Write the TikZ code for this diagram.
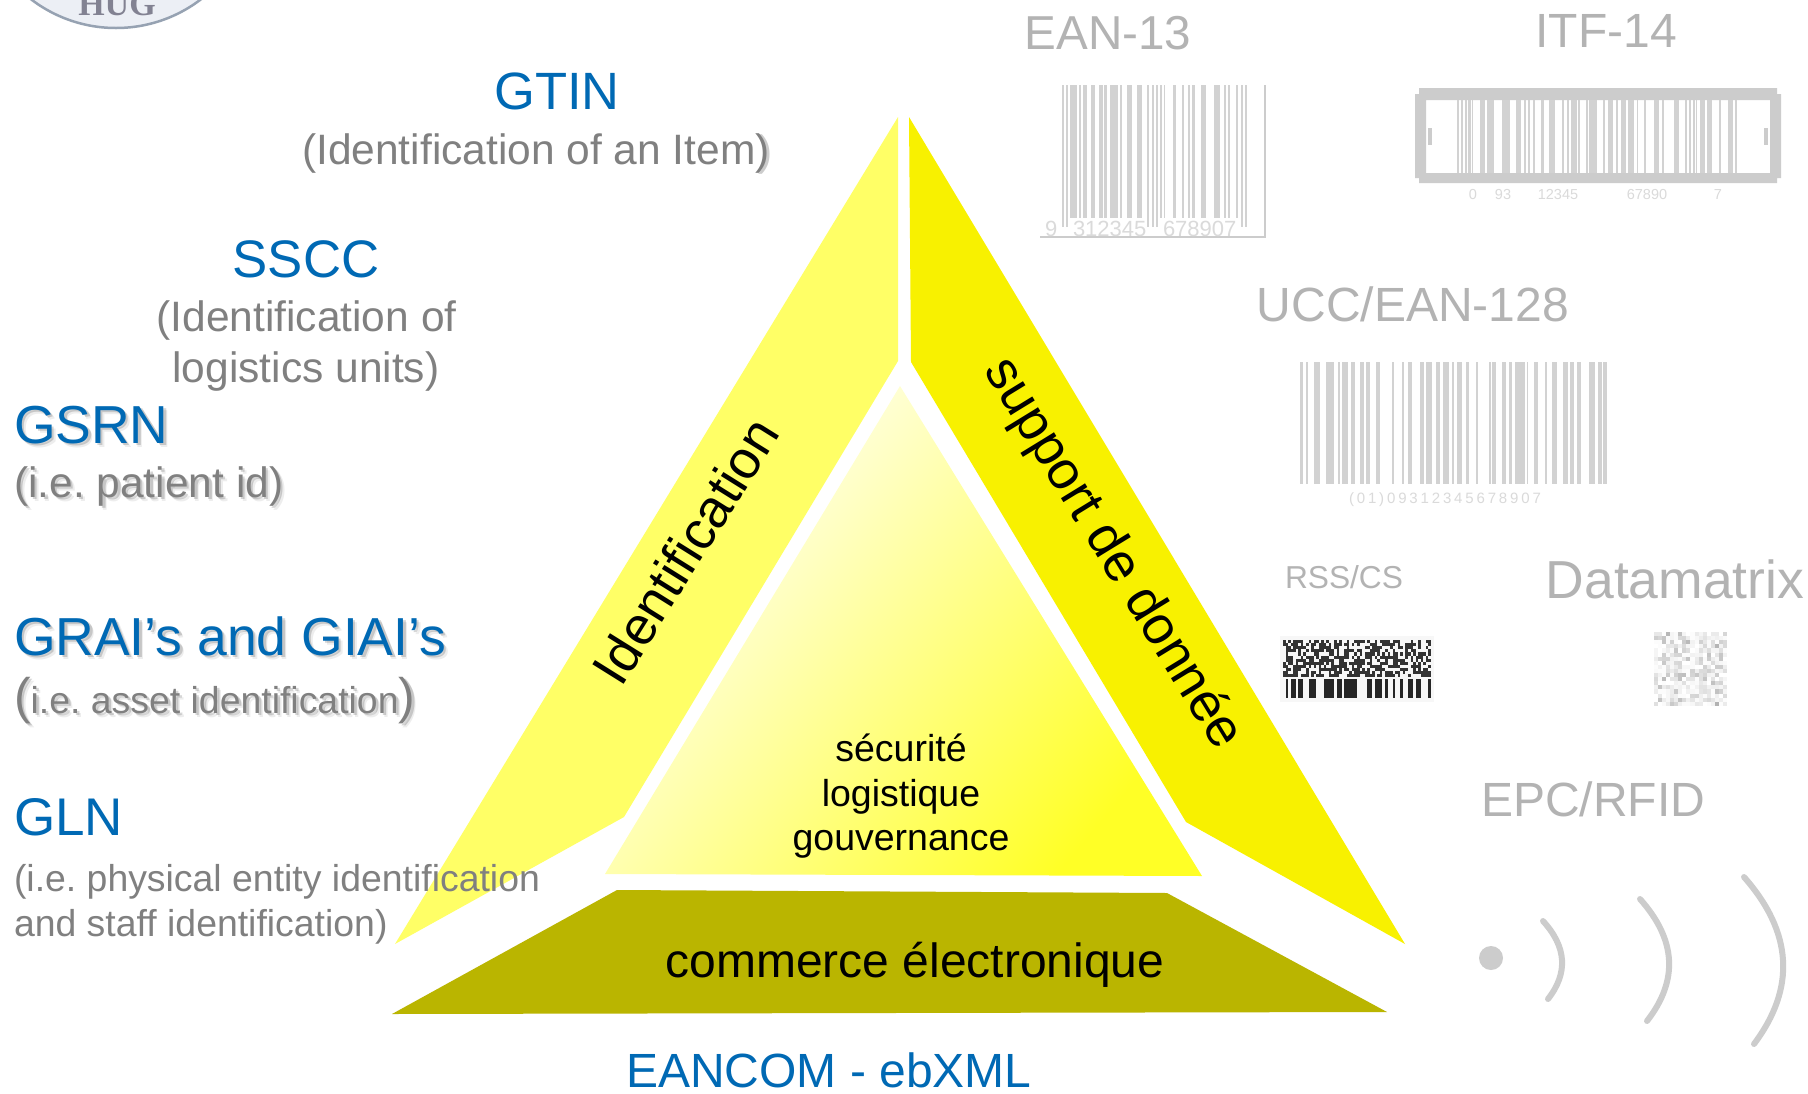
\documentclass[tikz,border=0pt]{standalone}
\usepackage{fontspec}
\setmainfont{Liberation Sans}
\newfontfamily\serifface{Liberation Serif}
\newfontfamily\spacedface[LetterSpace=19]{Liberation Sans}
\frenchspacing
\newcommand{\shadownode}[5]{%
  \node[#1, text=black, text opacity=.07] at ({#3+4}, {#4+4}) {#5};
  \node[#1, text=black, text opacity=.16] at ({#3+2.5}, {#4+2.5}) {#5};
  \node[#1] (#2) at (#3, #4) {#5};}
\tikzset{
  textbase/.style={inner sep=0pt, outer sep=0pt, anchor=base},
  codelabel/.style={textbase, text=codeblue, font=\fontsize{53.5}{60}\selectfont},
  sublabel/.style={textbase, text=subgray, font=\fontsize{42.5}{50}\selectfont},
  smallsub/.style={textbase, text=subgray, font=\fontsize{37.4}{44}\selectfont},
  carrierlabel/.style={textbase, text=carriergray, font=\fontsize{48}{55}\selectfont},
  wingtext/.style={inner sep=0pt, text=black, font=\fontsize{53.6}{60}\selectfont},
  coretext/.style={textbase, text=black, font=\fontsize{37.5}{44}\selectfont},
  barfill/.style={fill=bargray!88!white},
  bardigit/.style={textbase, text=digitgray}
}
\begin{document}
\begin{tikzpicture}[x=1pt, y=-1pt]
  \definecolor{codeblue}{RGB}{0, 105, 180}
  \definecolor{subgray}{RGB}{128, 128, 128}
  \definecolor{carriergray}{RGB}{179, 179, 179}
  \definecolor{bargray}{RGB}{204, 204, 204}
  \definecolor{digitgray}{RGB}{218, 218, 218}
  \definecolor{leftyellow}{RGB}{255, 255, 102}
  \definecolor{rightyellow}{RGB}{248, 241, 0}
  \definecolor{baseolive}{RGB}{186, 181, 0}
  \definecolor{logofill}{RGB}{236, 239, 245}
  \definecolor{logoline}{RGB}{150, 162, 178}
  \definecolor{logotext}{RGB}{130, 130, 146}
  \path[use as bounding box] (0, 0) rectangle (1808, 1093);
  \fill[white] (0, 0) rectangle (1808, 1093);

  % logo, cut by the page
  \draw[logoline, fill=logofill, line width=2.5pt] (116, -112) circle (140);
  \node[textbase, text=logotext, font=\serifface\bfseries\fontsize{34}{34}\selectfont] (logo) at (117, 15) {HUG};

  % triangle
  \fill[leftyellow] (898, 117) -- (898, 361) -- (624, 817) -- (395, 944) -- cycle;
  \fill[rightyellow] (909, 117) -- (911, 362) -- (1186, 822) -- (1405, 944) -- cycle;
  \shade[top color=white, middle color=yellow!30!white, bottom color=yellow!85!white, shading angle=50]
    (900, 386) -- (1202, 876) -- (605, 874) -- cycle;
  \fill[baseolive] (617, 890) -- (1167, 893) -- (1387, 1012) -- (392, 1014) -- cycle;

  \node[wingtext, rotate=58] (identif) at (685, 551) {Identification};
  \node[wingtext, rotate=-58.5] (support) at (1112, 554) {support de donnée};
  \node[coretext] (secu) at (901, 761) {sécurité};
  \node[coretext] (logi) at (901, 806) {logistique};
  \node[coretext] (gouv) at (901, 850) {gouvernance};
  \node[textbase, text=black, font=\fontsize{48}{55}\selectfont] (comm) at (915, 977) {commerce électronique};
  \node[codelabel, font=\fontsize{48}{60}\selectfont] (eancom) at (829, 1087) {EANCOM - ebXML};

  % left column
  \node[codelabel, font=\fontsize{52.5}{60}\selectfont] (gtin) at (557, 109) {GTIN};
  \node[sublabel, text=black, text opacity=.2, anchor=base east] at (773, 165) {)};
  \node[sublabel] (gtinsub) at (536, 164) {(Identification of an Item)};
  \node[codelabel, font=\fontsize{52.8}{60}\selectfont] (sscc) at (306, 277) {SSCC};
  \node[sublabel] (ssccsub) at (306.5, 331) {(Identification of};
  \node[sublabel] (ssccsubb) at (306, 382) {logistics units)};
  \shadownode{codelabel, anchor=base west}{gsrn}{14}{443}{GSRN}
  \shadownode{sublabel, anchor=base west}{gsrnsub}{14}{497}{(i.e. patient id)}
  \shadownode{codelabel, anchor=base west}{grai}{14}{655}{GRAI’s and GIAI’s}
  \shadownode{smallsub, anchor=base west}{graisub}{14}{713}{{\fontsize{50}{50}\selectfont(}i.e. asset identification{\fontsize{50}{50}\selectfont)}}
  \node[codelabel, anchor=base west, font=\fontsize{53}{60}\selectfont] (gln) at (14, 835) {GLN};
  \node[smallsub, anchor=base west] (glnsub) at (14, 891) {(i.e. physical entity identification};
  \node[smallsub, anchor=base west] (glnsubb) at (14, 936) {and staff identification)};

  % right column labels
  \node[carrierlabel, font=\fontsize{47.6}{55}\selectfont] (ean) at (1108, 49) {EAN-13};
  \node[carrierlabel] (itf) at (1606, 47) {ITF-14};
  \node[carrierlabel] (ucc) at (1413, 321) {UCC/EAN-128};
  \node[carrierlabel, font=\fontsize{31.7}{38}\selectfont] (rss) at (1344, 588) {RSS/CS};
  \node[carrierlabel, font=\fontsize{53.5}{60}\selectfont] (datamatrix) at (1675, 598) {Datamatrix};
  \node[carrierlabel] (epc) at (1593, 816) {EPC/RFID};

  % EAN-13 bars
  \foreach \a/\b in {105/127, 133/139, 145/157, 168/180, 193/203, 208/216, 226/250, 256/262, 275/291,
      306/322, 375/381, 387/391, 415/423, 440/446, 458/464, 472/480, 497/512, 538/556, 567/573, 580/586, 604/610} {
    \fill[barfill] ({1035+\a/3}, 85) rectangle ({1035+\b/3}, 218);
  }
  \foreach \a/\b in {80/86, 93/100, 336/343, 350/356, 362/368, 618/624, 630/636} {
    \fill[barfill] ({1035+\a/3}, 85) rectangle ({1035+\b/3}, 227);
  }
  \draw[bargray, line width=1.2pt] (1265, 85) -- (1265, 237) -- (1040, 237);
  \node[bardigit, anchor=base west, font=\fontsize{22}{22}\selectfont] (eana) at (1045, 236) {9};
  \node[bardigit, anchor=base west, font=\fontsize{22}{22}\selectfont] (eanb) at (1073, 236) {312345};
  \node[bardigit, anchor=base west, font=\fontsize{22}{22}\selectfont] (eanc) at (1163, 236) {678907};

  % ITF-14 frame and bars
  \fill[bargray, even odd rule] (1419, 88) -- (1777, 88) -- (1777, 94) -- (1781, 94) -- (1781, 178) -- (1777, 178)
    -- (1777, 183) -- (1419, 183) -- (1419, 178) -- (1415, 178) -- (1415, 94) -- (1419, 94) -- cycle
    (1426, 100) rectangle (1770, 173);
  \fill[bargray] (1428, 128) rectangle (1432, 145);
  \fill[bargray] (1764, 128) rectangle (1768, 145);
  \foreach \a/\b in {22/28, 34/40, 46/52, 55/62, 65/70, 90/106, 112/131, 157/180, 197/214, 222/228, 233/241,
      248/256, 272/281, 298/316, 336/342, 350/356, 362/380, 385/391, 408/414, 418/440, 459/465, 474/490,
      497/503, 512/527, 535/552, 560/565, 583/589, 612/628, 636/642, 672/688, 706/712, 716/722, 728/734,
      738/742, 750/766, 771/787, 808/813, 835/850, 855/862} {
    \fill[barfill] ({1450+\a/3}, 100) rectangle ({1450+\b/3}, 173);
  }
  \foreach \dx/\txt in {1473/0, 1503/93, 1558/12345, 1647/67890, 1718/7} {
    \node[bardigit, font=\fontsize{14.5}{14}\selectfont] at (\dx, 199) {\txt};
  }

  % UCC/EAN-128 bars
  \foreach \a/\b in {16/24, 32/40, 58/76, 94/118, 128/134, 141/159, 168/180, 195/207, 214/226, 244/256, 292/298,
      320/328, 338/352, 375/387, 392/412, 424/434, 444/462, 472/478, 486/502, 512/522, 544/549, 582/587,
      591/604, 620/634, 642/652, 660/690, 696/700, 716/730, 750/755, 772/786, 804/818, 826/838, 846/858,
      882/900, 908/920, 925/935} {
    \fill[barfill] ({1295+\a/3}, 362) rectangle ({1295+\b/3}, 484);
  }
  \node[bardigit, anchor=base west, font=\spacedface\fontsize{15}{15}\selectfont] (ucccode) at (1349, 503) {(01)09312345678907};

  % RSS/CS composite symbol
  \fill[black!3] (1280, 636) rectangle (1434, 702);
  \pgfmathsetseed{41}
  \foreach \col in {0,...,57} {
    \foreach \row in {0,...,11} {
      \pgfmathparse{rnd<0.58 ? 1 : 0}
      \ifnum\pgfmathresult=1
        \fill[black!80] ({1283+\col*2.55}, {640+\row*3.1}) rectangle ({1283+(\col+1)*2.55}, {640+(\row+1)*3.1});
      \fi
    }
    \pgfmathparse{rnd<0.6 ? 1 : 0}
    \ifnum\pgfmathresult=1
      \fill[black!85] ({1283+\col*2.55}, 679) rectangle ({1283+(\col+1)*2.55}, 698);
    \fi
  }

  % Datamatrix cells
  \pgfmathsetseed{17}
  \foreach \col in {0,...,17} {
    \foreach \row in {0,...,17} {
      \pgfmathsetmacro{\shadeval}{int(rnd*rnd*32)}
      \fill[black!\shadeval!white] ({1654+\col*4.05}, {632+\row*4.1}) rectangle ({1654+(\col+1)*4.05}, {632+(\row+1)*4.1});
    }
  }

  % RFID waves
  \def\wavewidth{6pt}
  \fill[bargray] (1491, 958) circle (12);
  \draw[bargray, line width=\wavewidth, line cap=round] (1543, 921) .. controls (1566.7, 947) and (1568.3, 973) .. (1548, 999);
  \draw[bargray, line width=\wavewidth, line cap=round] (1640, 899) .. controls (1676.3, 939.7) and (1678.7, 980.3) .. (1647, 1021);
  \draw[bargray, line width=\wavewidth, line cap=round] (1744, 877) .. controls (1792.7, 932.3) and (1796, 988) .. (1754, 1044);
\end{tikzpicture}
\end{document}
